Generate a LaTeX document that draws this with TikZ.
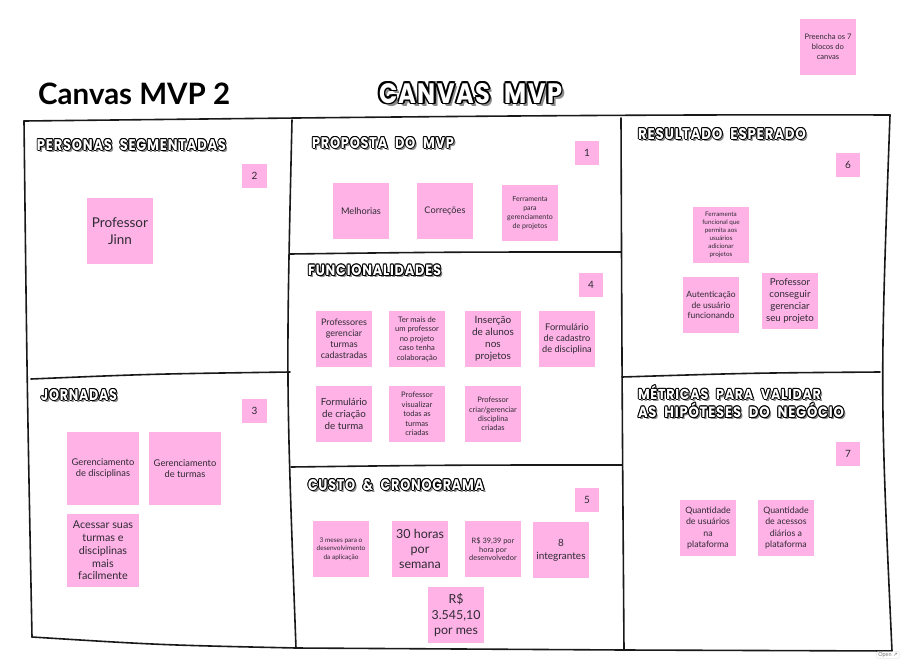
\documentclass[tikz,border=0pt]{standalone}
\usepackage{fontspec}
\usepackage{graphicx}
\setmainfont{Lato}
\newfontfamily\hdrfont{Poppins}[LetterSpace=6,WordSpace=2.2]
\newfontfamily\symfont{DejaVu Sans}
\definecolor{stick}{HTML}{FEB2E6}
\definecolor{stxt}{HTML}{2E2A33}
\definecolor{shade}{HTML}{8C8C8C}
\tikzset{
  sticky/.style={fill=stick, text=stxt, inner sep=0pt, outer sep=0pt, align=center},
  sz/.style 2 args={minimum width=#1pt, minimum height=#2pt},
  fnt/.style 2 args={font=\fontsize{#1}{#2}\selectfont},
  hdrbox/.style={anchor=north west, inner sep=0pt, outer sep=0pt},
  frame/.style={line width=1.6pt, draw=black!90, line cap=round, line join=round},
}
% #1 name, #2 x, #3 y, #4 width, #5 height, #6 outline, #7 text
\newcommand\comichdr[7]{%
  \foreach \dd in {1.0,1.5,2.0}{%
    \node[hdrbox,text=shade] at ({#2+\dd*#6},{#3+\dd*#6}) {\resizebox{#4pt}{#5pt}{\hdrfont\bfseries #7}};}
  \foreach \dx/\dy in {1/0,-1/0,0/1,0/-1,0.7/0.7,-0.7/0.7,0.7/-0.7,-0.7/-0.7}{%
    \node[hdrbox,text=black] at ({#2+\dx*#6},{#3+\dy*#6}) {\resizebox{#4pt}{#5pt}{\hdrfont\bfseries #7}};}
  \node[hdrbox,text=white] (#1) at (#2,#3) {\resizebox{#4pt}{#5pt}{\hdrfont\bfseries #7}};
}
\begin{document}
\begin{tikzpicture}[x=1pt,y=-1pt]
\useasboundingbox (0,0) rectangle (908,664);
\fill[white] (0,0) rectangle (908,664);

% ---------- titles ----------
\node[anchor=base west, inner sep=0pt, font=\fontsize{29.5}{32}\selectfont\bfseries] (title) at (38,104) {Canvas MVP 2};
\comichdr{canvas}{379}{83}{183}{20}{1.7}{CANVAS MVP}

\node[sticky,sz={56}{56},fnt={7.6}{10}] (pree) at (828,47) {Preencha os 7\\blocos do\\canvas};

% ---------- frame ----------
\coordinate (tl) at (24,121);
\coordinate (tm1) at (292,120);
\coordinate (tm2) at (621,118);
\coordinate (tr) at (890,115);
\coordinate (bl) at (32,637);
\coordinate (bm1) at (296,648);
\coordinate (bm2) at (624,650);
\coordinate (br) at (892,651);
\coordinate (ld1) at (31,379);
\coordinate (ld2) at (290,372);
\coordinate (md1a) at (290,254);
\coordinate (md1b) at (621,252);
\coordinate (md2a) at (291,467);
\coordinate (md2b) at (622,465);
\coordinate (rd1) at (622,377);
\coordinate (rd2) at (880,372);

\draw[frame] (tl) .. controls (300,118) and (600,114) .. (tr);
\draw[frame] (tl) .. controls (27,380) .. (bl);
\draw[frame] (bl) .. controls (160,645) .. (bm1);
\draw[frame] (bm1) -- (bm2) -- (br);
\draw[frame] (tr) .. controls (880,390) .. (br);
\draw[frame] (tm1) .. controls (286,380) .. (bm1);
\draw[frame] (tm2) .. controls (622,380) .. (bm2);
\draw[frame] (ld1) .. controls (150,374) .. (ld2);
\draw[frame] (md1a) .. controls (450,252) .. (md1b);
\draw[frame] (md2a) .. controls (450,465) .. (md2b);
\draw[frame] (rd1) .. controls (750,373) .. (rd2);

% ---------- headers ----------
\comichdr{hpers}{37}{139}{189}{11}{1.0}{PERSONAS SEGMENTADAS}
\comichdr{hprop}{312}{137}{142}{11}{1.0}{PROPOSTA DO MVP}
\comichdr{hres}{638}{128}{168}{11}{1.0}{RESULTADO ESPERADO}
\comichdr{hfunc}{308}{265}{133}{10.5}{1.0}{FUNCIONALIDADES}
\comichdr{hjorn}{41}{389}{76}{11}{1.0}{JORNADAS}
\comichdr{hcust}{308}{479}{176}{11}{1.0}{CUSTO \& CRONOGRAMA}
\comichdr{hmet}{638}{385}{183}{14}{1.0}{MÉTRICAS PARA VALIDAR}
\comichdr{hhip}{638}{403}{206}{14.5}{1.0}{AS HIPÓTESES DO NEGÓCIO}

% ---------- personas / jornadas ----------
\node[sticky,sz={25}{24},fnt={10}{12}] (n2) at (254.5,176) {2};
\node[sticky,sz={66}{66},fnt={13.5}{16.7}] (jinn) at (120,231) {Professor\\Jinn};
\node[sticky,sz={25}{24},fnt={10}{12}] (n3) at (254.5,411) {3};
\node[sticky,sz={72}{73},fnt={9.3}{11.3}] (gdisc) at (103,468.5) {Gerenciamento\\de disciplinas};
\node[sticky,sz={72}{73},fnt={9.3}{11.3}] (gturm) at (185,468.5) {Gerenciamento\\de turmas};
\node[sticky,sz={72}{73},fnt={10.8}{12.7}] (acess) at (103,550.5) {Acessar suas\\turmas e\\disciplinas\\mais\\facilmente};

% ---------- proposta ----------
\node[sticky,sz={24}{24},fnt={10}{12}] (n1) at (587,153) {1};
\node[sticky,sz={56}{56},fnt={9.2}{11}] (melh) at (361,211) {Melhorias};
\node[sticky,sz={56}{56},fnt={9.2}{11}] (corr) at (445,211) {Correções};
\node[sticky,sz={56}{56},fnt={7}{8.8}] (ferr) at (530,213) {Ferramenta\\para\\gerenciamento\\de projetos};

% ---------- funcionalidades ----------
\node[sticky,sz={24}{24},fnt={10}{12}] (n4) at (591,285) {4};
\node[sticky,sz={56}{56},fnt={9}{11}] (profg) at (344,339) {Professores\\gerenciar\\turmas\\cadastradas};
\node[sticky,sz={56}{56},fnt={7.6}{9.5}] (term) at (417,339) {Ter mais de\\um professor\\no projeto\\caso tenha\\colaboração};
\node[sticky,sz={56}{56},fnt={10}{12}] (ins) at (493,339) {Inserção\\de alunos\\nos\\projetos};
\node[sticky,sz={56}{56},fnt={9.2}{10.7}] (fcad) at (567,339) {Formulário\\de cadastro\\de disciplina};
\node[sticky,sz={56}{56},fnt={9.8}{12}] (fcri) at (344,414) {Formulário\\de criação\\de turma};
\node[sticky,sz={56}{56},fnt={7.6}{9.6}] (vis) at (417,414) {Professor\\visualizar\\todas as\\turmas\\criadas};
\node[sticky,sz={56}{56},fnt={7.5}{9.4}] (crig) at (493,414) {Professor\\criar/gerenciar\\disciplina\\criadas};

% ---------- custo ----------
\node[sticky,sz={24}{24},fnt={10}{12}] (n5) at (587,500) {5};
\node[sticky,sz={56}{56},fnt={6.5}{8.3}] (tres) at (341,549) {3 meses para o\\desenvolvimento\\da aplicação};
\node[sticky,sz={56}{56},fnt={12.5}{15}] (trin) at (420,549) {30 horas\\por\\semana};
\node[sticky,sz={56}{56},fnt={7.4}{8.7}] (rs) at (493,549) {R\$ 39,39 por\\hora por\\desenvolvedor};
\node[sticky,sz={56}{56},fnt={10}{13}] (oito) at (561,550) {8\\integrantes};
\node[sticky,sz={56}{56},fnt={12.4}{15.7}] (total) at (456,615) {R\$\\3.545,10\\por mes};

% ---------- resultado ----------
\node[sticky,sz={24}{24},fnt={10}{12}] (n6) at (848,165) {6};
\node[sticky,sz={56}{56},fnt={6.3}{7.9}] (ferr2) at (721,235) {Ferramenta\\funcional que\\permita aos\\usuários\\adicionar\\projetos};
\node[sticky,sz={56}{56},fnt={8.5}{10.5}] (auth) at (711,305) {Autenticação\\de usuário\\funcionando};
\node[sticky,sz={56}{56},fnt={9.7}{12}] (profc) at (790,301) {Professor\\conseguir\\gerenciar\\seu projeto};

% ---------- metricas ----------
\node[sticky,sz={24}{24},fnt={10}{12}] (n7) at (848,454) {7};
\node[sticky,sz={56}{56},fnt={8.8}{11.1}] (qusu) at (708,528) {Quantidade\\de usuários\\na\\plataforma};
\node[sticky,sz={56}{56},fnt={8.8}{11.1}] (qace) at (786,528) {Quantidade\\de acessos\\diários a\\plataforma};

% ---------- open button ----------
\node[draw=black!15, fill=white, rounded corners=1pt, inner xsep=1.5pt, inner ysep=1pt, text=black!55, font=\fontsize{5.5}{6}\selectfont] (open) at (888,655) {Open {\symfont ↗}};
\end{tikzpicture}
\end{document}
